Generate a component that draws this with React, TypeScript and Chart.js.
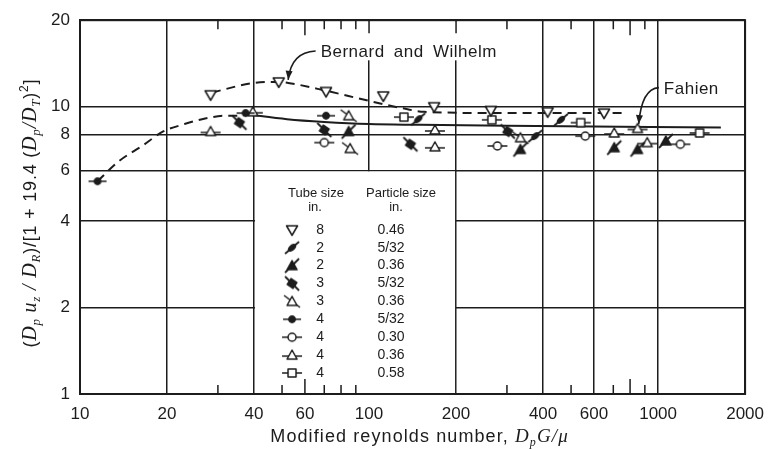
import React, { useEffect, useRef } from "react";
import { Chart, registerables } from "chart.js";

Chart.register(...registerables);

const INK = "#1c1c1c";
const SANS = '"Liberation Sans", Arial, Helvetica, sans-serif';
const SERIF = '"Liberation Serif", "Times New Roman", serif';

// axis ticks
const X_TICKS = [10, 20, 40, 60, 100, 200, 400, 600, 1000, 2000];
const X_NO_GRID = [60];
const Y_TICKS = [1, 2, 4, 6, 8, 10, 20];
const MINOR_X = [30, 50, 60, 70, 80, 90, 300, 500, 700, 800, 900];
const TALL_MINOR_X = [60, 800];
const TOP_STUBS = [100, 200];

// legend
const TUBE_SIZES = ["8", "2", "2", "3", "3", "4", "4", "4", "4"];
const PARTICLE_SIZES = ["0.46", "5/32", "0.36", "5/32", "0.36", "5/32", "0.30", "0.36", "0.58"];
const MARKER_KINDS = ["downTri", "dotSlash", "triSlash", "sqBack", "openTriBack", "dotH", "circH", "triH", "sqH"];

// data series (tube size / particle size)
const T8_046_X = [28.3, 48.7, 71, 112, 168, 264, 415, 650];
const T8_046_Y = [11.0, 12.2, 11.3, 10.9, 10.0, 9.7, 9.6, 9.5];
const T2_532_X = [148, 376, 461];
const T2_532_Y = [9.05, 7.9, 9.0];
const T2_036_X = [85, 334, 705, 849, 1064];
const T2_036_Y = [8.2, 7.1, 7.2, 7.1, 7.6];
const T3_532_X = [35.6, 70, 139, 302];
const T3_532_Y = [8.8, 8.3, 7.4, 8.2];
const T3_036_X = [85, 86, 334];
const T3_036_Y = [9.3, 7.15, 7.8];
const T4_532_X = [11.5, 37.4, 71];
const T4_532_Y = [5.5, 9.5, 9.3];
const T4_030_X = [70, 278, 560, 1194];
const T4_030_Y = [7.5, 7.3, 7.9, 7.4];
const T4_036_X = [28.3, 39.6, 169, 169, 705, 849, 917];
const T4_036_Y = [8.2, 9.6, 8.3, 7.25, 8.1, 8.4, 7.5];
const T4_058_X = [132, 266, 540, 1392];
const T4_058_Y = [9.2, 9.0, 8.8, 8.1];

// correlation curves
const BERNARD_X = [28.6, 40, 48.7, 52.5, 70, 99, 129, 155, 300, 764];
const BERNARD_Y = [11.2, 12.1, 12.2, 12.1, 11.4, 10.5, 9.9, 9.6, 9.5, 9.5];
const LOW_X = [11.5, 13.6, 16.4, 19.4, 23, 27.1, 32, 36.8];
const LOW_Y = [5.5, 6.45, 7.3, 8.2, 8.7, 9.1, 9.3, 9.3];
const FAHIEN_X = [38, 52, 70, 100, 150, 300, 1649];
const FAHIEN_Y = [9.4, 9.05, 8.85, 8.7, 8.65, 8.58, 8.47];

// annotation anchors (data units)
const BERNARD_LABEL = { text: "Bernard and Wilhelm", x: 68, y: 14.9, tipX: 52.5, tipY: 12.4 };
const FAHIEN_LABEL = { text: "Fahien", x: 1047, y: 11.1, tipX: 857, tipY: 8.7 };

const zip = (xs: number[], ys: number[]) => xs.map((x, i) => ({ x, y: ys[i] }));

function makeMarker(kind: string): HTMLCanvasElement {
  const c = document.createElement("canvas");
  c.width = 26;
  c.height = 26;
  const g = c.getContext("2d")!;
  g.translate(13, 13);
  g.strokeStyle = INK;
  g.lineJoin = "round";
  const seg = (x1: number, y1: number, x2: number, y2: number, w = 1.5) => {
    g.lineWidth = w;
    g.beginPath();
    g.moveTo(x1, y1);
    g.lineTo(x2, y2);
    g.stroke();
  };
  const poly = (pts: number[][], fill: string) => {
    g.beginPath();
    pts.forEach(([px, py], i) => (i ? g.lineTo(px, py) : g.moveTo(px, py)));
    g.closePath();
    g.fillStyle = fill;
    g.fill();
    g.lineWidth = 1.5;
    g.stroke();
  };
  const circ = (r: number, fill: string) => {
    g.beginPath();
    g.arc(0, 0, r, 0, Math.PI * 2);
    g.fillStyle = fill;
    g.fill();
    g.lineWidth = 1.5;
    g.stroke();
  };
  const up = [[0, -5], [5, 4], [-5, 4]];
  switch (kind) {
    case "downTri":
      poly([[-5.5, -4], [5.5, -4], [0, 5.5]], "#fff");
      break;
    case "dotSlash":
      seg(-7, 6, 7, -6, 1.8);
      g.save();
      g.rotate(-0.7);
      g.beginPath();
      g.ellipse(0, 0, 5, 3, 0, 0, Math.PI * 2);
      g.fillStyle = INK;
      g.fill();
      g.restore();
      break;
    case "triSlash":
      seg(-7, 7, 7, -7, 1.8);
      poly(up, INK);
      break;
    case "sqBack":
      seg(-7, -7, 7, 7, 1.8);
      g.save();
      g.rotate(Math.PI / 4 - 0.2);
      poly([[-3.5, -3.5], [3.5, -3.5], [3.5, 3.5], [-3.5, 3.5]], INK);
      g.restore();
      break;
    case "openTriBack":
      seg(-8, -6, 8, 6);
      poly(up, "#fff");
      break;
    case "dotH":
      seg(-9, 0, 9, 0);
      circ(3.2, INK);
      break;
    case "circH":
      seg(-10, 0, 10, 0);
      circ(4, "#fff");
      break;
    case "triH":
      seg(-10, 1, 10, 1);
      poly(up, "#fff");
      break;
    case "sqH":
      seg(-10, 0, 10, 0);
      poly([[-4, -4], [4, -4], [4, 4], [-4, 4]], "#fff");
      break;
  }
  return c;
}

type Seg = { t: string; f: string; dy?: number };

function drawRich(ctx: CanvasRenderingContext2D, segs: Seg[], cx: number, by: number) {
  let w = 0;
  for (const s of segs) {
    ctx.font = s.f;
    w += ctx.measureText(s.t).width;
  }
  let x = cx - w / 2;
  ctx.textAlign = "left";
  ctx.textBaseline = "alphabetic";
  for (const s of segs) {
    ctx.font = s.f;
    ctx.fillText(s.t, x, by + (s.dy || 0));
    x += ctx.measureText(s.t).width;
  }
}

function arrow(ctx: CanvasRenderingContext2D, sx: number, sy: number, cx: number, cy: number, tx: number, ty: number) {
  ctx.beginPath();
  ctx.moveTo(sx, sy);
  ctx.quadraticCurveTo(cx, cy, tx, ty);
  ctx.lineWidth = 1.6;
  ctx.stroke();
  const ang = Math.atan2(ty - cy, tx - cx);
  const L = 9;
  const W = 3.5;
  ctx.beginPath();
  ctx.moveTo(tx, ty);
  ctx.lineTo(tx - L * Math.cos(ang) + W * Math.sin(ang), ty - L * Math.sin(ang) - W * Math.cos(ang));
  ctx.lineTo(tx - L * Math.cos(ang) - W * Math.sin(ang), ty - L * Math.sin(ang) + W * Math.cos(ang));
  ctx.closePath();
  ctx.fill();
}

export default function App() {
  const ref = useRef<HTMLCanvasElement>(null);

  useEffect(() => {
    document.body.style.margin = "0";
    const markers = MARKER_KINDS.map(makeMarker);
    const seriesXY: number[][][] = [
      [T8_046_X, T8_046_Y],
      [T2_532_X, T2_532_Y],
      [T2_036_X, T2_036_Y],
      [T3_532_X, T3_532_Y],
      [T3_036_X, T3_036_Y],
      [T4_532_X, T4_532_Y],
      [T4_030_X, T4_030_Y],
      [T4_036_X, T4_036_Y],
      [T4_058_X, T4_058_Y],
    ];
    const pointSets = seriesXY.map(([xs, ys], i) => ({
      label: `${TUBE_SIZES[i]} in. / ${PARTICLE_SIZES[i]} in.`,
      data: zip(xs, ys),
      pointStyle: markers[i],
      pointRadius: 8,
      showLine: false,
    }));
    const curves = [
      { label: "Bernard and Wilhelm", data: zip(BERNARD_X, BERNARD_Y), borderDash: [9, 6] },
      { label: "Bernard low Re", data: zip(LOW_X, LOW_Y), borderDash: [9, 6] },
      { label: "Fahien", data: zip(FAHIEN_X, FAHIEN_Y), borderDash: [] as number[] },
    ].map((d) => ({
      ...d,
      showLine: true,
      pointRadius: 0,
      borderColor: INK,
      borderWidth: 2,
      cubicInterpolationMode: "monotone" as const,
      fill: false,
    }));

    const paper = {
      id: "paper",
      beforeDatasetsDraw(chart: any) {
        const { ctx, chartArea: a, scales } = chart;
        const x = scales.x;
        const y = scales.y;
        ctx.save();
        ctx.fillStyle = "#fff";
        // gap in grid behind the upper annotation
        const ax0 = x.getPixelForValue(42);
        const ax1 = x.getPixelForValue(280);
        const ay1 = y.getPixelForValue(14.5);
        ctx.fillRect(ax0, a.top + 1, ax1 - ax0, ay1 - a.top - 1);
        // legend box
        const bx0 = x.getPixelForValue(40);
        const bx1 = x.getPixelForValue(200);
        const by0 = y.getPixelForValue(6);
        ctx.fillRect(bx0 + 1, by0 + 1, bx1 - bx0 - 2, a.bottom - by0 - 2);
        // frame
        ctx.strokeStyle = INK;
        ctx.lineWidth = 2;
        ctx.strokeRect(a.left, a.top, a.right - a.left, a.bottom - a.top);
        // minor ticks on top and bottom
        ctx.lineWidth = 1.5;
        for (const v of MINOR_X) {
          const px = x.getPixelForValue(v);
          const len = TALL_MINOR_X.includes(v) ? 15 : 9;
          ctx.beginPath();
          ctx.moveTo(px, a.top);
          ctx.lineTo(px, a.top + len);
          ctx.moveTo(px, a.bottom);
          ctx.lineTo(px, a.bottom - len);
          ctx.stroke();
        }
        for (const v of TOP_STUBS) {
          const px = x.getPixelForValue(v);
          ctx.beginPath();
          ctx.moveTo(px, a.top);
          ctx.lineTo(px, a.top + 13);
          ctx.stroke();
        }
        // legend content
        const cx = (bx0 + bx1) / 2;
        const bot = a.bottom;
        ctx.fillStyle = INK;
        ctx.textAlign = "center";
        ctx.textBaseline = "middle";
        ctx.font = `13px ${SANS}`;
        ctx.fillText("Tube size", cx - 39, bot - 201);
        ctx.fillText("in.", cx - 40, bot - 187);
        ctx.fillText("Particle size", cx + 46, bot - 201);
        ctx.fillText("in.", cx + 41, bot - 187);
        ctx.font = `14px ${SANS}`;
        for (let i = 0; i < TUBE_SIZES.length; i++) {
          const yy = bot - 21 - (TUBE_SIZES.length - 1 - i) * 17.9;
          ctx.drawImage(markers[i], cx - 63 - 13, yy - 13);
          ctx.fillText(TUBE_SIZES[i], cx - 35, yy);
          ctx.fillText(PARTICLE_SIZES[i], cx + 36, yy);
        }
        ctx.restore();
      },
      afterDatasetsDraw(chart: any) {
        const { ctx, scales } = chart;
        const x = scales.x;
        const y = scales.y;
        ctx.save();
        ctx.fillStyle = INK;
        ctx.strokeStyle = INK;
        ctx.textAlign = "left";
        ctx.textBaseline = "alphabetic";
        ctx.font = `17px ${SANS}`;
        (ctx as any).letterSpacing = "0.5px";
        (ctx as any).wordSpacing = "4px";
        for (const lab of [BERNARD_LABEL, FAHIEN_LABEL]) {
          const tx = x.getPixelForValue(lab.x);
          const ty = y.getPixelForValue(lab.y);
          ctx.fillText(lab.text, tx, ty);
          const px = x.getPixelForValue(lab.tipX);
          const py = y.getPixelForValue(lab.tipY);
          const sx = tx - 5;
          const sy = ty - 6;
          arrow(ctx, sx, sy, px + 3, sy + 1, px, py);
        }
        ctx.restore();
      },
      afterDraw(chart: any) {
        const { ctx, chartArea: a } = chart;
        ctx.save();
        ctx.fillStyle = INK;
        (ctx as any).letterSpacing = "1.1px";
        const sans18 = `18px ${SANS}`;
        const it19 = `italic 19px ${SERIF}`;
        const it12 = `italic 12px ${SERIF}`;
        drawRich(
          ctx,
          [
            { t: "Modified reynolds number, ", f: sans18 },
            { t: "D", f: it19 },
            { t: "p", f: it12, dy: 4 },
            { t: "G/\u03bc", f: it19 },
          ],
          (a.left + a.right) / 2 + 7,
          442
        );
        (ctx as any).letterSpacing = "0.8px";
        const it20 = `italic 20px ${SERIF}`;
        const it13 = `italic 13px ${SERIF}`;
        ctx.translate(36, (a.top + a.bottom) / 2 + 6);
        ctx.rotate(-Math.PI / 2);
        drawRich(
          ctx,
          [
            { t: "(", f: sans18 },
            { t: "D", f: it20 },
            { t: "p", f: it13, dy: 4 },
            { t: " u", f: it20 },
            { t: "z", f: it13, dy: 4 },
            { t: " / ", f: it20 },
            { t: "D", f: it20 },
            { t: "R", f: it13, dy: 4 },
            { t: ")/[1 + 19.4 (", f: sans18 },
            { t: "D", f: it20 },
            { t: "p", f: it13, dy: 4 },
            { t: "/", f: it20 },
            { t: "D", f: it20 },
            { t: "T", f: it13, dy: 4 },
            { t: ")", f: sans18 },
            { t: "2", f: `12px ${SANS}`, dy: -8 },
            { t: "]", f: sans18 },
          ],
          0,
          0
        );
        ctx.restore();
      },
    };

    const chart = new Chart(ref.current!, {
      type: "scatter",
      data: { datasets: [...pointSets, ...curves] as any },
      options: {
        responsive: false,
        animation: false,
        devicePixelRatio: 1,
        layout: { padding: { left: 0, top: 16, right: 24, bottom: 0 } },
        plugins: { legend: { display: false }, tooltip: { enabled: false } },
        scales: {
          x: {
            type: "logarithmic",
            min: 10,
            max: 2000,
            afterBuildTicks: (s: any) => {
              s.ticks = X_TICKS.map((v) => ({ value: v }));
            },
            afterFit: (s: any) => {
              s.height = 55;
            },
            grid: {
              drawTicks: false,
              color: (c: any) => (X_NO_GRID.includes(c.tick?.value) ? "rgba(0,0,0,0)" : INK),
              lineWidth: 1.5,
            },
            border: { display: true, color: INK, width: 2 },
            ticks: {
              autoSkip: false,
              maxRotation: 0,
              padding: 10,
              color: INK,
              font: { family: SANS, size: 17 },
              callback: (v: any) => String(v),
            },
          },
          y: {
            type: "logarithmic",
            min: 1,
            max: 20,
            afterBuildTicks: (s: any) => {
              s.ticks = Y_TICKS.map((v) => ({ value: v }));
            },
            afterFit: (s: any) => {
              s.width = 80;
            },
            grid: { drawTicks: false, color: INK, lineWidth: 1.5 },
            border: { display: true, color: INK, width: 2 },
            ticks: {
              autoSkip: false,
              padding: 10,
              color: INK,
              font: { family: SANS, size: 17 },
              callback: (v: any) => String(v),
            },
          },
        },
      } as any,
      plugins: [paper],
    });
    return () => chart.destroy();
  }, []);

  return <canvas ref={ref} width={774} height={449} style={{ display: "block" }} />;
}
